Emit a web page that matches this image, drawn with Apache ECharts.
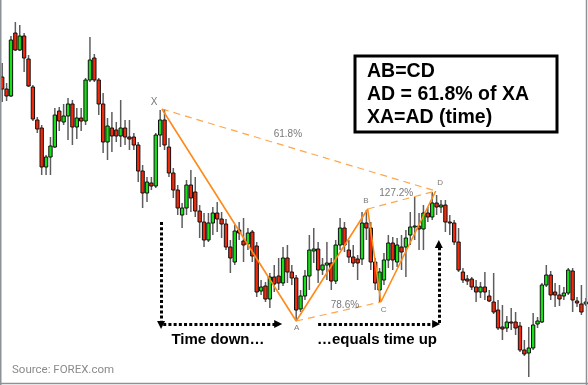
<!DOCTYPE html>
<html><head><meta charset="utf-8">
<script src="https://cdn.jsdelivr.net/npm/echarts@6/dist/echarts.min.js"></script>
<style>html,body{margin:0;padding:0;background:#fff}#c{width:588px;height:385px}</style>
</head><body><div id="c"></div>
<script>
// Candles (unlabelled price points), index 0..133
var opens  = [323,311,304,367,350,364,341,313,280,272,233,243,253,289,278,284,296,273,282,279,320,342,320,296,258,272,270,264,272,263,263,255,229,207,217,214,265,280,253,227,210,185,192,215,208,189,178,160,177,187,181,176,153,138,170,159,156,168,154,109,114,101,123,124,117,142,128,122,91,104,124,149,151,130,135,137,119,155,172,150,143,141,141,177,172,138,110,120,140,157,138,153,153,165,173,174,171,187,183,197,193,195,178,177,158,128,121,121,113,108,113,104,98,90,73,72,78,78,74,50,47,52,76,78,115,125,108,105,104,107,129,99,96,96];
var highs  = [337,317,364,378,375,367,345,315,283,275,245,263,292,293,296,302,300,292,292,322,363,346,322,307,282,288,278,300,280,280,267,258,235,223,223,267,290,291,262,232,215,197,220,230,223,195,187,187,193,198,188,181,160,175,178,182,172,170,158,120,118,127,135,142,153,155,135,125,110,130,165,172,158,142,158,142,160,182,178,160,155,145,188,190,178,142,132,147,165,163,162,165,170,188,203,187,195,193,208,205,200,200,185,180,172,132,125,123,120,118,128,110,127,100,95,84,92,88,78,60,73,87,83,117,135,129,117,115,113,132,132,103,115,102];
var lows   = [298,299,303,349,349,328,313,279,267,225,225,225,252,269,275,260,255,261,269,275,318,318,285,247,240,248,258,253,255,250,250,218,192,198,210,212,253,250,223,202,185,172,185,188,183,162,153,158,165,168,162,150,127,135,160,138,150,138,103,105,98,92,108,110,114,117,115,80,88,100,110,137,117,125,120,110,116,150,148,137,133,120,135,160,130,110,98,115,132,130,133,130,123,155,160,150,150,178,180,185,187,168,165,155,128,117,115,110,98,102,100,98,86,70,60,68,70,65,48,44,23,50,72,77,113,100,93,94,100,105,88,93,85,94];
var closes = [311,304,360,350,364,342,314,281,271,233,243,254,285,279,284,296,273,282,279,320,340,320,296,258,274,264,264,272,263,261,255,229,207,218,214,265,280,255,227,210,192,192,215,202,189,178,160,177,187,181,176,153,142,169,167,155,167,144,108,113,101,123,116,117,142,128,122,90,104,124,150,151,130,135,137,119,155,172,155,143,137,137,177,172,138,117,128,140,157,140,155,148,162,173,174,171,187,183,197,193,195,178,177,158,130,120,119,113,108,113,108,99,88,72,71,78,77,72,50,46,52,75,79,115,125,105,105,101,107,130,100,97,88,98];

// Harmonic pattern turning points [candle position, price]
var patternNames = ['X','A','B','C','D'];
var patternX     = [36.4, 67, 83.3, 86.3, 98.8];
var patternY     = [291, 79, 191, 98, 209];
// Dashed projection links (pairs of pattern point indices)
var dashedLinks  = [[0,4],[1,3],[2,4]];
// Ratio labels [text, position, price]
var ratioText = ['61.8%','127.2%','78.6%'];
var ratioX    = [65.1, 89.8, 78.1];
var ratioY    = [266, 207, 95];
// Pattern point labels
var pointLabelX = [34.6, 67.1, 82.9, 86.9, 99.8];
var pointLabelY = [298, 72, 199, 90, 217];
// Dotted time arrows [x1, y1, x2, y2] in candle position / price
var timeArrows = [[36.2,178,36.2,75],[36.7,76,62.9,76],[72.0,76,98.9,76],[99.5,77,99.5,156]];

var GREEN = '#16e016', RED = '#f22a0c';
var candleData = opens.map(function(o,i){ return [i, o, closes[i], lows[i], highs[i]]; });

var chart = echarts.init(document.getElementById('c'), null, {renderer:'canvas'});
var series = [];
series.push({
  type:'custom', data:candleData, z:2, silent:true, animation:false,
  encode:{x:0, y:[1,2,3,4]},
  renderItem:function(params, api){
    var x = api.value(0), o = api.value(1), c = api.value(2), l = api.value(3), h = api.value(4);
    var pO = api.coord([x,o]), pC = api.coord([x,c]), pL = api.coord([x,l]), pH = api.coord([x,h]);
    var w = api.size([1,0])[0]*0.76;
    var top = Math.min(pO[1],pC[1]), bot = Math.max(pO[1],pC[1]);
    var up = c >= o;
    return {type:'group', children:[
      {type:'line', shape:{x1:pH[0], y1:pH[1], x2:pL[0], y2:pL[1]}, style:{stroke:'#5e5e5e', lineWidth:1.5}},
      {type:'rect', shape:{x:pO[0]-w/2, y:top, width:w, height:Math.max(bot-top,1)}, style:{fill:up?GREEN:RED, stroke:'#111', lineWidth:1}}
    ]};
  }
});
// dashed links
dashedLinks.forEach(function(p){
  series.push({type:'line', z:3, silent:true, animation:false, symbol:'none',
    data:[[patternX[p[0]],patternY[p[0]]],[patternX[p[1]],patternY[p[1]]]],
    lineStyle:{color:'#ffa64a', width:1.2, type:[7,5]}});
});
// zigzag
series.push({type:'line', z:4, silent:true, animation:false, symbol:'none',
  data:patternX.map(function(x,i){return [x,patternY[i]];}),
  lineStyle:{color:'#ff8a1a', width:1.6}});
// labels
var labelData = [];
patternNames.forEach(function(n,i){ labelData.push({value:[pointLabelX[i],pointLabelY[i]], name:n, fs: n==='X'?10:8}); });
ratioText.forEach(function(t,i){ labelData.push({value:[ratioX[i],ratioY[i]], name:t, fs:10}); });
series.push({type:'scatter', z:5, silent:true, animation:false, symbolSize:0,
  data:labelData.map(function(d){return {value:d.value, name:d.name,
    label:{show:true, position:'inside', formatter:'{b}', color:'#555', fontSize:d.fs, fontFamily:'Liberation Sans'}};})
});
// dotted arrows
series.push({type:'line', z:6, silent:true, animation:false, data:[],
  markLine:{silent:true, animation:false, symbol:['none','triangle'], symbolSize:[8,8],
    label:{show:false}, emphasis:{disabled:true},
    lineStyle:{color:'#000', width:3, type:[3,2.2]},
    data:timeArrows.map(function(a){return [{coord:[a[0],a[1]]},{coord:[a[2],a[3]]}];})
  }});

chart.setOption({
  animation:false,
  grid:{left:0, right:0, top:0, bottom:0},
  xAxis:{type:'value', min:-0.5, max:133.5, show:false},
  yAxis:{type:'value', min:15, max:400, show:false},
  series:series,
  graphic:[
    {type:'rect', z:10, shape:{x:355, y:56, width:202, height:76}, style:{fill:'#fff', stroke:'#000', lineWidth:3}},
    {type:'text', z:11, style:{x:367, y:72, text:'AB=CD', font:'bold 19.5px "Liberation Sans"', fill:'#000', verticalAlign:'middle'}},
    {type:'text', z:11, style:{x:367, y:95, text:'AD = 61.8% of XA', font:'bold 19.5px "Liberation Sans"', fill:'#000', verticalAlign:'middle'}},
    {type:'text', z:11, style:{x:367, y:117.5, text:'XA=AD (time)', font:'bold 19.5px "Liberation Sans"', fill:'#000', verticalAlign:'middle'}},
    {type:'text', z:11, style:{x:218, y:339.5, text:'Time down\u2026', font:'bold 15px "Liberation Sans"', fill:'#000', align:'center', verticalAlign:'middle'}},
    {type:'text', z:11, style:{x:377, y:339.5, text:'\u2026equals time up', font:'bold 15px "Liberation Sans"', fill:'#000', align:'center', verticalAlign:'middle'}},
    {type:'text', z:11, style:{x:12, y:370, text:'Source: FOREX.com', font:'11.5px Roboto', fill:'#8a8a8a', verticalAlign:'middle'}},
    {type:'line', z:12, shape:{x1:0.75, y1:0, x2:0.75, y2:385}, style:{stroke:'#8d9297', lineWidth:1.5}},
    {type:'line', z:12, shape:{x1:586.5, y1:0, x2:586.5, y2:385}, style:{stroke:'#8d9297', lineWidth:1.5}},
    {type:'line', z:12, shape:{x1:0, y1:383.5, x2:588, y2:383.5}, style:{stroke:'#8d9297', lineWidth:1.5}}
  ]
});
</script></body></html>
